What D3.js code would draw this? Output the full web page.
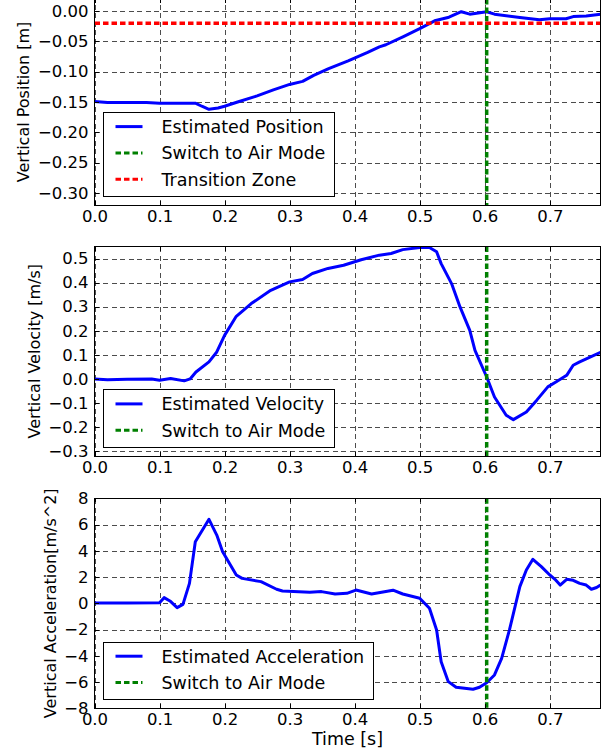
<!DOCTYPE html>
<html>
<head>
<meta charset="utf-8">
<script src="https://d3js.org/d3.v7.min.js"></script>
<style>
body { margin: 0; background: #fff; }
svg { display: block; font-family: "DejaVu Sans", sans-serif; }
.grid line { stroke: #000; stroke-width: 1; stroke-dasharray: 5,3.5; opacity: 0.7; shape-rendering: crispEdges; }
.grid path { display: none; }
.axis path { display: none; }
.axis line { stroke: #000; shape-rendering: crispEdges; }
.axis text { font-size: 16.5px; fill: #000; font-family: "DejaVu Sans", sans-serif; }
.frame { fill: none; stroke: #000; stroke-width: 1; shape-rendering: crispEdges; }
.ylabel, .xlabel { font-size: 16px; fill: #000; }
.xlabel { font-size: 17.5px; }
.legend rect { fill: #fff; stroke: #000; stroke-width: 1; shape-rendering: crispEdges; }
.legend text { font-size: 17.5px; fill: #000; }
</style>
</head>
<body>
<svg id="chart" width="607" height="755"></svg>
<script>
const timeTicks = [0, 0.1, 0.2, 0.3, 0.4, 0.5, 0.6, 0.7];
const positionTicks = [0, -0.05, -0.1, -0.15, -0.2, -0.25, -0.3];
const velocityTicks = [0.5, 0.4, 0.3, 0.2, 0.1, 0, -0.1, -0.2, -0.3];
const accelTicks = [8, 6, 4, 2, 0, -2, -4, -6, -8];

const positionTime = [0, 0.02, 0.05, 0.08, 0.10, 0.13, 0.155, 0.165, 0.176, 0.19, 0.20, 0.22, 0.25, 0.275, 0.30,
    0.32, 0.337, 0.36, 0.39, 0.42, 0.438, 0.448, 0.475, 0.50, 0.523, 0.545, 0.564, 0.577, 0.603, 0.615,
    0.654, 0.684, 0.70, 0.725, 0.736, 0.756, 0.778];
const positionValues = [-0.149, -0.151, -0.151, -0.151, -0.152, -0.152, -0.152, -0.157, -0.162, -0.160, -0.157,
    -0.150, -0.140, -0.130, -0.121, -0.116, -0.106, -0.095, -0.082, -0.068, -0.059, -0.0555, -0.042, -0.029,
    -0.016, -0.010, -0.001, -0.005, -0.001, -0.005, -0.0105, -0.0144, -0.0125, -0.0125, -0.009, -0.008, -0.005];

const velocityTime = [0, 0.02, 0.05, 0.088, 0.1, 0.117, 0.138, 0.147, 0.156, 0.176, 0.188, 0.2, 0.218, 0.241,
    0.271, 0.3, 0.32, 0.335, 0.359, 0.383, 0.41, 0.438, 0.456, 0.474, 0.5, 0.515, 0.526, 0.533, 0.549, 0.562,
    0.577, 0.585, 0.603, 0.615, 0.633, 0.644, 0.664, 0.68, 0.697, 0.71, 0.726, 0.736, 0.746, 0.778];
const velocityValues = [0.0, -0.003, -0.001, 0.0, -0.005, 0.002, -0.008, 0.0, 0.029, 0.071, 0.112, 0.181, 0.26,
    0.313, 0.368, 0.403, 0.413, 0.438, 0.459, 0.472, 0.495, 0.514, 0.521, 0.537, 0.546, 0.546, 0.528, 0.479,
    0.396, 0.299, 0.202, 0.119, 0.008, -0.075, -0.151, -0.169, -0.137, -0.088, -0.033, -0.012, 0.015, 0.057,
    0.071, 0.110];

const accelTime = [0, 0.05, 0.1, 0.107, 0.116, 0.127, 0.136, 0.146, 0.155, 0.176, 0.188, 0.197, 0.218, 0.227,
    0.256, 0.28, 0.289, 0.331, 0.349, 0.37, 0.388, 0.402, 0.426, 0.459, 0.474, 0.5, 0.515, 0.526, 0.533, 0.544,
    0.556, 0.582, 0.592, 0.603, 0.615, 0.626, 0.638, 0.654, 0.664, 0.674, 0.687, 0.7, 0.708, 0.716, 0.726,
    0.736, 0.746, 0.756, 0.764, 0.772, 0.778];
const accelValues = [0.02, 0.03, 0.05, 0.43, 0.18, -0.33, -0.08, 1.52, 4.69, 6.4, 5.2, 3.93, 2.16, 1.9, 1.65,
    1.07, 0.94, 0.84, 0.89, 0.71, 0.76, 1.01, 0.71, 1.0, 0.71, 0.38, -0.38, -2.03, -4.45, -5.97, -6.4, -6.55,
    -6.4, -6.05, -5.46, -4.19, -2.03, 1.27, 2.54, 3.35, 2.79, 2.16, 1.83, 1.39, 1.83, 1.75, 1.52, 1.39, 1.07,
    1.2, 1.39];

const switchTime = 0.603;
const transitionZone = -0.02;

const svg = d3.select("#chart");
const left = 94.5, right = 600.5;
const x = d3.scaleLinear().domain([0, 0.778]).range([left, right]);

const blue = "#0000ff", green = "#008000", red = "#ff0000";

const panels = [
    {top: -1, bottom: 205, domain: [-0.32, 0.02], ticks: positionTicks, format: d3.format(".2f"),
        label: "Vertical Position [m]", labelX: 29, time: positionTime, values: positionValues,
        legend: ["Estimated Position", "Switch to Air Mode", "Transition Zone"]},
    {top: 246.5, bottom: 456, domain: [-0.32, 0.55], ticks: velocityTicks, format: d3.format(".1f"),
        label: "Vertical Velocity [m/s]", labelX: 40, time: velocityTime, values: velocityValues,
        legend: ["Estimated Velocity", "Switch to Air Mode"]},
    {top: 498.3, bottom: 708.3, domain: [-8, 8], ticks: accelTicks, format: d3.format("d"),
        label: "Vertical Acceleration[m/s^2]", labelX: 56, time: accelTime, values: accelValues,
        legend: ["Estimated Acceleration", "Switch to Air Mode"]}
];

const legendStyles = [
    {color: blue, dash: null},
    {color: green, dash: "5.5,3"},
    {color: red, dash: "5.5,3"}
];

function drawPanel(p, i) {
    const y = d3.scaleLinear().domain(p.domain).range([p.bottom, p.top]);
    const h = p.bottom - p.top;
    const g = svg.append("g");

    svg.append("clipPath").attr("id", "clip" + i)
        .append("rect").attr("x", left).attr("y", p.top).attr("width", right - left).attr("height", h);

    g.append("g").attr("class", "grid")
        .attr("transform", `translate(0,${p.bottom})`)
        .call(d3.axisBottom(x).tickValues(timeTicks).tickSize(-h).tickFormat(""));
    g.append("g").attr("class", "grid")
        .attr("transform", `translate(${left},0)`)
        .call(d3.axisLeft(y).tickValues(p.ticks).tickSize(-(right - left)).tickFormat(""));

    const plot = g.append("g").attr("clip-path", `url(#clip${i})`);
    const line = d3.line().x(d => x(d[0])).y(d => y(d[1]));
    plot.append("path")
        .datum(d3.zip(p.time, p.values))
        .attr("d", line)
        .attr("fill", "none")
        .attr("stroke", blue)
        .attr("stroke-width", 3)
        .attr("stroke-linejoin", "round");
    plot.append("line")
        .attr("x1", x(switchTime)).attr("x2", x(switchTime))
        .attr("y1", p.top).attr("y2", p.bottom)
        .attr("stroke", green).attr("stroke-width", 3.5).attr("stroke-dasharray", "5.5,3");
    if (p.legend.length > 2) {
        plot.append("line")
            .attr("x1", left).attr("x2", right)
            .attr("y1", y(transitionZone)).attr("y2", y(transitionZone))
            .attr("stroke", red).attr("stroke-width", 3.5).attr("stroke-dasharray", "5.5,3");
    }

    g.append("rect").attr("class", "frame")
        .attr("x", left).attr("y", p.top).attr("width", right - left).attr("height", h);

    g.append("g").attr("class", "axis")
        .attr("transform", `translate(0,${p.bottom})`)
        .call(d3.axisBottom(x).tickValues(timeTicks).tickFormat(d3.format(".1f"))
            .tickSizeInner(-4).tickSizeOuter(0).tickPadding(5.3));
    g.append("g").attr("class", "axis")
        .attr("transform", `translate(0,${p.top})`)
        .call(d3.axisTop(x).tickValues(timeTicks).tickFormat("").tickSizeInner(-4).tickSizeOuter(0));
    g.append("g").attr("class", "axis")
        .attr("transform", `translate(${left},0)`)
        .call(d3.axisLeft(y).tickValues(p.ticks).tickFormat(p.format)
            .tickSizeInner(-4).tickSizeOuter(0).tickPadding(6));
    g.append("g").attr("class", "axis")
        .attr("transform", `translate(${right},0)`)
        .call(d3.axisRight(y).tickValues(p.ticks).tickFormat("").tickSizeInner(-4).tickSizeOuter(0));

    g.append("text").attr("class", "ylabel")
        .attr("transform", `translate(${p.labelX},${(p.top + p.bottom) / 2}) rotate(-90)`)
        .attr("text-anchor", "middle")
        .text(p.label);

    drawLegend(g, p.legend, p.bottom);
}

function drawLegend(g, labels, bottom) {
    const rowH = 26.3;
    const boxH = 30.8 + rowH * (labels.length - 1);
    const bx = left + 9, by = bottom - 9 - boxH;
    const lg = g.append("g").attr("class", "legend");
    const box = lg.append("rect").attr("x", bx).attr("y", by).attr("height", boxH);
    let maxW = 0;
    labels.forEach((label, k) => {
        const cy = by + 14 + k * rowH;
        const st = legendStyles[k];
        lg.append("line")
            .attr("x1", bx + 12).attr("x2", bx + 39).attr("y1", cy).attr("y2", cy)
            .attr("stroke", st.color).attr("stroke-width", 3)
            .attr("stroke-dasharray", st.dash);
        const t = lg.append("text").attr("x", bx + 58).attr("y", cy).attr("dy", "0.36em").text(label);
        maxW = Math.max(maxW, t.node().getComputedTextLength());
    });
    box.attr("width", 58 + maxW + 9);
}

panels.forEach(drawPanel);

svg.append("text").attr("class", "xlabel")
    .attr("x", (left + right) / 2).attr("y", 745)
    .attr("text-anchor", "middle")
    .text("Time [s]");
</script>
</body>
</html>
